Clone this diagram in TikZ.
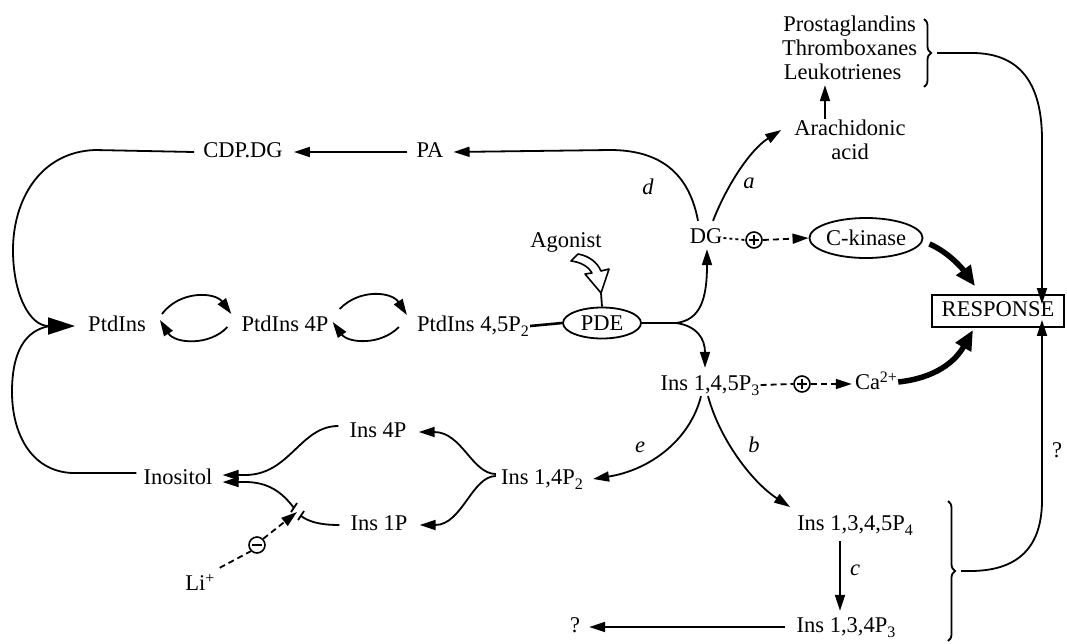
\documentclass[tikz,border=0pt]{standalone}
\usepackage{fontspec}
\setmainfont{Liberation Serif}
\usetikzlibrary{arrows.meta,decorations.pathreplacing,shapes.geometric}
\newcommand\labfont{\fontsize{22.5}{24}\selectfont}
\newcommand\lsub[1]{\raisebox{-5pt}{\fontsize{16}{16}\selectfont #1}}
\newcommand\lsup[1]{\raisebox{7pt}{\fontsize{16}{16}\selectfont #1}}
\begin{document}
\begin{tikzpicture}[x=1pt,y=-1pt,
  lbl/.style={font=\labfont, inner sep=1pt, text height=15.5pt, text depth=4.5pt},
  free/.style={font=\labfont, inner sep=1pt, align=center},
  arr/.style={line width=1.8pt, -{Triangle[length=16pt,width=10pt]}},
  ln/.style={line width=1.8pt},
  thk/.style={line width=5.5pt, -{Triangle[length=20pt,width=17pt]}},
  enz/.style={ellipse, draw, line width=1.8pt, font=\labfont, inner sep=0pt},
  sgn/.style={circle, draw, line width=1.6pt, minimum size=16pt, inner sep=0pt},
  dsh/.style={line width=1.8pt, dash pattern=on 6pt off 4pt},
  ital/.style={font=\labfont\itshape, inner sep=0pt},
  brc/.style={line width=1.8pt, decorate, decoration={brace, amplitude=7pt}}
]
\useasboundingbox (0,0) rectangle (1067,643);

% ---------- nodes ----------
\node[lbl] (prost)  at (849.5,26) {Prostaglandins};
\node[lbl] (thromb) at (849.5,50) {Thromboxanes};
\node[lbl] (leuko)  at (842.5,74) {Leukotrienes};
\node[free] (arach) at (850,140) {Arachidonic\\acid};
\node[lbl] (cdpdg) at (243,152) {CDP.DG};
\node[lbl] (pa) at (430,152) {PA};
\node[lbl] (dg) at (706,238) {DG};
\node[sgn] (plus1) at (754,240) {};
\node[enz, minimum width=105pt, minimum height=40pt] (ckin) at (866,238) {C-kinase};
\node[lbl] (agon) at (566,242) {Agonist};
\node[lbl] (ptdins) at (117,326) {PtdIns};
\node[lbl] (ptdins4p) at (285,326) {PtdIns 4P};
\node[lbl] (ptdins45) at (473,326) {PtdIns 4,5P\lsub{2}};
\node[enz, minimum width=78pt, minimum height=31pt] (pde) at (602,323) {PDE};
\node[lbl, draw, line width=1.8pt, minimum width=132pt, minimum height=32pt] (resp) at (998,311) {RESPONSE};
\node[lbl] (ins145) at (710,385) {Ins 1,4,5P\lsub{3}};
\node[sgn] (plus2) at (802,384) {};
\node[lbl] (ca) at (876,384) {Ca\lsup{2+}};
\node[lbl] (ins4p) at (378,432) {Ins 4P};
\node[lbl] (inositol) at (178,479) {Inositol};
\node[lbl] (ins14) at (542,479) {Ins 1,4P\lsub{2}};
\node[lbl] (ins1p) at (379,525) {Ins 1P};
\node[lbl] (ins1345) at (855,525) {Ins 1,3,4,5P\lsub{4}};
\node[lbl] (li) at (200,585) {Li\lsup{+}};
\node[sgn] (minus) at (257,545) {};
\node[lbl] (ins134) at (846,627) {Ins 1,3,4P\lsub{3}};
\node[lbl] (qL) at (575,627) {?};
\node[lbl] (qR) at (1057,452) {?};
% path labels
\node[ital] (ld) at (648,187) {d};
\node[ital] (la) at (749,183) {a};
\node[ital] (le) at (640,447) {e};
\node[ital] (lb) at (754,445) {b};
\node[ital] (lc) at (855,570) {c};

% helper coordinates
\coordinate (br) at (676,323);
\coordinate (bt1a) at (924,19);
\coordinate (bt1b) at (924,87);
\coordinate (bt1) at (937,53);
\coordinate (bt2a) at (948,501);
\coordinate (bt2b) at (948,641);
\coordinate (bt2) at (961,571);
\coordinate (rx) at (1042,0);
\coordinate (gap) at (297,512);

% plus / minus signs
\draw[line width=1.6pt] ([xshift=-5]plus1.center) -- ([xshift=5]plus1.center)
      ([yshift=-5]plus1.center) -- ([yshift=5]plus1.center);
\draw[line width=1.6pt] ([xshift=-5]plus2.center) -- ([xshift=5]plus2.center)
      ([yshift=-5]plus2.center) -- ([yshift=5]plus2.center);
\draw[line width=2pt] ([xshift=-5]minus.center) -- ([xshift=5]minus.center);

% ---------- braces ----------
\draw[brc] (bt1a) -- (bt1b);
\draw[brc] (bt2a) -- (bt2b);

% ---------- top chain ----------
\draw[arr] ([xshift=-8]pa.west) -- ([xshift=10]cdpdg.east);
\draw[arr] ([shift={(-8,-6)}]dg.north) .. controls (690,178) and (665,150) .. (610,150) -- ([xshift=9]pa.east);
\draw[arr] ([shift={(7,-6)}]dg.north) .. controls (727,185) and (750,150) .. ([shift={(-12,-10)}]arach.west);
\draw[arr] ([xshift=-25]arach.north) -- ([xshift=-17.5]leuko.south);
\draw[arr] (bt1) -- (972,53) .. controls (1025,53) and (1042,90) .. (1042,140) -- ([yshift=-10]rx |- resp.north);

% ---------- left loop ----------
\draw[ln, -{Triangle[length=27pt,width=17pt]}] ([xshift=-8]cdpdg.west) -- (95,150)
   .. controls (40,152) and (13,200) .. (13,250)
   .. controls (13,295) and (30,326) .. ([xshift=-12]ptdins.west);
\draw[ln] ([shift={(-6,-6)}]inositol.west) -- (72,473)
   .. controls (30,471) and (12,432) .. (12,392)
   .. controls (12,352) and (25,330) .. (50,326);

% ---------- PtdIns cycles ----------
\draw[arr] ([shift={(15,-12)}]ptdins.east) .. controls (180,290) and (215,292) .. ([shift={(-9,-12)}]ptdins4p.west);
\draw[arr] ([shift={(-13,1)}]ptdins4p.west) .. controls (210,346) and (175,344) .. ([shift={(13,-6)}]ptdins.east);
\draw[arr] ([shift={(10,-17)}]ptdins4p.east) .. controls (360,288) and (392,292) .. ([shift={(-9,-11)}]ptdins45.west);
\draw[arr] ([shift={(-17,1)}]ptdins45.west) .. controls (380,346) and (348,343) .. ([shift={(3,-4)}]ptdins4p.east);

% ---------- PDE ----------
\draw[line width=2.6pt] (ptdins45.east) -- (pde.west);
\draw[line width=2.6pt] (pde.east) -- (br);
\draw[arr] (br) .. controls (700,320) and (707,300) .. ([xshift=1]dg.south);
\draw[arr] (br) .. controls (698,326) and (705,340) .. ([shift={(-5,-6)}]ins145.north);
% agonist hollow arrow
\draw[line width=1.6pt, fill=white, line join=round]
  (571,261) .. controls (580,262) and (588,266) .. (592,273)
  -- (585,274) -- (601,293) -- (609,269) -- (601,271)
  .. controls (597,262) and (589,256) .. (578,254) -- cycle;
\draw[line width=1.8pt] (601,293) -- (pde.north);

% ---------- signalling ----------
\draw[line width=1.8pt, dash pattern=on 3pt off 3pt] (dg.east) -- (plus1.west);
\draw[dsh, -{Triangle[length=16pt,width=10pt]}] (plus1.east) -- (ckin.west);
\draw[thk] ([shift={(6,6)}]ckin.east) .. controls (948,252) and (962,268) .. ([shift={(-23,-8)}]resp.north);
\draw[dsh] (ins145.east) -- (plus2.west);
\draw[dsh, -{Triangle[length=16pt,width=10pt]}] (plus2.east) -- ([xshift=-2]ca.west);
\draw[thk] ([shift={(0,-2)}]ca.east) .. controls (935,378) and (955,362) .. ([shift={(-25,2)}]resp.south);

% ---------- Ins 1,4,5P3 branches ----------
\draw[arr] ([xshift=-9]ins145.south) .. controls (690,440) and (650,470) .. ([xshift=9]ins14.east);
\draw[arr] ([xshift=-2]ins145.south) .. controls (720,440) and (752,482) .. ([shift={(-6,-18)}]ins1345.west);
\draw[arr] ([shift={(-15,5)}]ins1345.south) -- ([shift={(-6,-5)}]ins134.north);
\draw[arr] ([xshift=-10]ins134.west) -- ([xshift=8]qL.east);
\draw[arr] (bt2) -- (970,571) .. controls (1025,571) and (1042,540) .. (1042,500) -- ([yshift=8]rx |- resp.south);

% ---------- inositol phosphates ----------
\draw[arr] ([shift={(-4,-5)}]ins14.west) .. controls (472,474) and (462,432) .. ([xshift=11]ins4p.east);
\draw[arr] ([shift={(-4,-3)}]ins14.west) .. controls (472,476) and (462,525) .. ([xshift=11]ins1p.east);
\draw[arr] ([shift={(-10,-6)}]ins4p.west) .. controls (300,426) and (290,475) .. (245,475) -- ([shift={(9,-4)}]inositol.east);
\draw[ln] ([xshift=-10]ins1p.west) .. controls (318,525) and (308,521) .. (301,516);
\draw[arr] (294,508) .. controls (282,492) and (268,482) .. (245,482) -- ([shift={(9,3)}]inositol.east);
% break ticks
\draw[line width=1.8pt] (298,520) -- (304,511);
\draw[line width=1.8pt] (291,512) -- (297,503);
% lithium inhibition
\draw[dsh] ([shift={(4,-6)}]li.north east) -- (minus.south west);
\draw[dsh, -{Triangle[length=16pt,width=10pt]}] (minus.north east) -- (gap);
\end{tikzpicture}
\end{document}
